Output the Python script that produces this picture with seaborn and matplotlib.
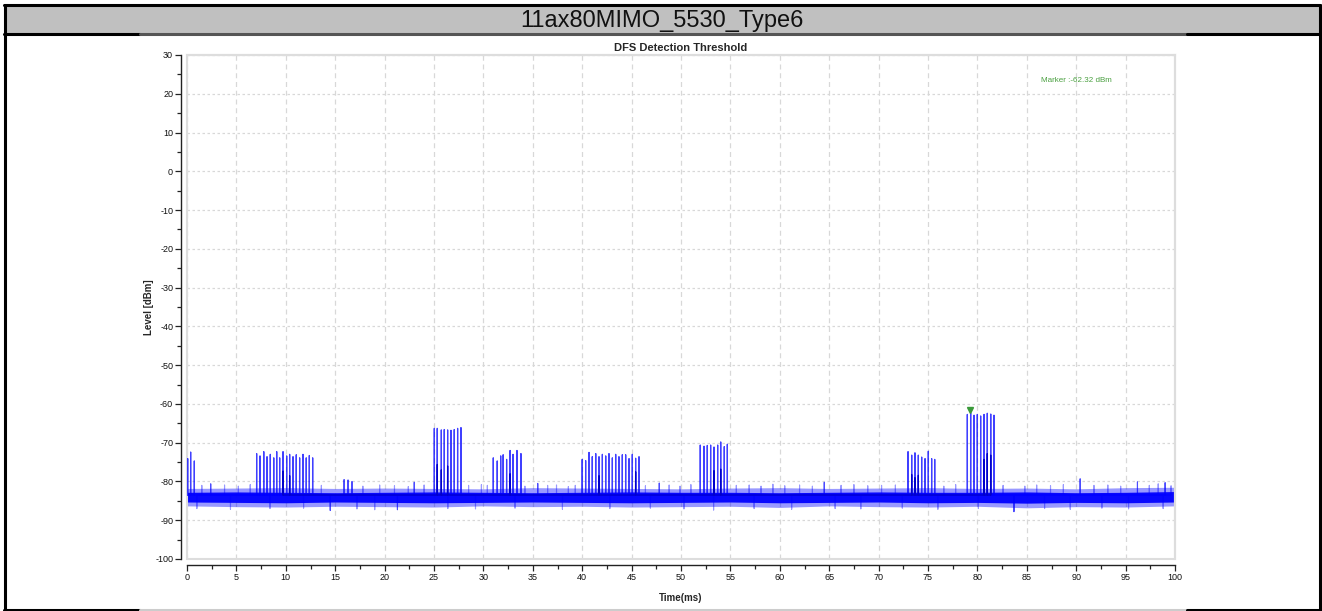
"""
plot.py - DFS detection threshold trace (11ax80MIMO_5530_Type6)
"""
import pandas as pd
import matplotlib.pyplot as plt
import seaborn as sns
from matplotlib.patches import Rectangle
from matplotlib.ticker import MultipleLocator

sns.set_theme(style="white")
plt.rcParams['font.family'] = ['Liberation Sans Narrow', 'Liberation Sans', 'DejaVu Sans']
plt.rcParams['axes.unicode_minus'] = False

HEADER = "11ax80MIMO_5530_Type6"
TITLE = "DFS Detection Threshold"
MARKER_T = 79.3
MARKER_LEVEL = -62.32

# noise floor envelope read every 5 ms (dBm)
noise_t = [0, 5, 10, 15, 20, 25, 30, 35, 40, 45, 50, 55, 60, 65, 70, 75, 80, 85, 90, 95, 100]
noise_hi = [-81.8, -81.7, -81.6, -81.8, -81.7, -81.8, -81.9, -81.6, -81.7, -81.8, -81.9,
            -81.7, -81.6, -81.8, -81.7, -81.6, -81.8, -81.7, -81.9, -81.6, -81.5]
noise_lo = [-86.3, -86.5, -86.6, -86.4, -86.5, -86.6, -86.3, -86.5, -86.4, -86.6, -86.5,
            -86.4, -86.7, -86.3, -86.5, -86.6, -86.4, -86.8, -86.5, -86.6, -86.3]
core_hi = [-82.8, -82.7, -82.8, -82.9, -82.8, -82.7, -82.8, -82.9, -82.8, -82.7, -82.8,
           -82.8, -82.9, -82.8, -82.7, -82.8, -82.8, -82.7, -82.9, -82.8, -82.6]
core_lo = [-85.3, -85.4, -85.5, -85.3, -85.4, -85.5, -85.4, -85.3, -85.4, -85.5, -85.4,
           -85.3, -85.5, -85.4, -85.3, -85.5, -85.4, -85.6, -85.4, -85.5, -85.3]

# isolated noise spikes, larger ones
spike_t = [2.4, 14.5, 15.9, 16.3, 16.7, 21.3, 23.0, 35.5, 47.8, 64.5, 83.7, 90.4, 96.2, 99.0]
spike_v = [-80.6, -87.5, -79.5, -79.6, -80.0, -87.3, -80.2, -80.5, -80.4, -80.2, -87.8, -79.3, -80.1, -80.3]

# fringe of the noise band (upward and downward excursions)
fringe_t = [1.5, 3.8, 5.2, 6.4, 13.6, 17.8, 19.5, 21.0, 22.4, 24.0, 28.5, 29.8, 30.4, 34.2,
            36.5, 37.4, 38.6, 39.3, 46.4, 48.8, 49.9, 51.0, 55.6, 56.9, 58.1, 59.3, 60.5, 62.0,
            63.3, 66.2, 67.5, 68.9, 70.3, 71.7, 76.6, 77.8, 82.6, 84.8, 86.0, 87.4, 88.7, 91.8,
            93.2, 94.5, 97.4, 98.3, 99.6,
            1.0, 4.4, 8.4, 11.8, 17.2, 19.0, 26.4, 29.2, 33.2, 38.0, 42.8, 46.9, 50.3, 53.3,
            57.4, 61.2, 65.6, 68.2, 72.4, 76.0, 80.1, 86.8, 89.4, 92.6, 95.3, 98.8]
fringe_v = [-81.0, -80.9, -81.2, -80.8, -81.0, -81.2, -80.9, -81.1, -81.3, -80.9, -81.0, -80.8,
            -81.0, -81.2, -81.0, -80.9, -81.3, -81.0, -81.1, -80.9, -81.2, -80.8, -81.0, -80.9,
            -81.2, -80.7, -81.1, -80.9, -81.2, -81.0, -80.8, -81.1, -81.0, -80.9, -81.2, -80.8,
            -81.0, -81.2, -80.9, -81.1, -80.8, -81.0, -80.9, -81.2, -81.0, -80.6, -81.1,
            -87.0, -87.2, -87.0, -86.9, -87.1, -87.3, -87.0, -87.1, -86.9, -87.2, -87.0, -86.9,
            -87.1, -87.4, -87.0, -87.2, -87.0, -87.1, -86.9, -87.2, -87.0, -87.0, -87.2, -86.9,
            -87.1, -87.0]

# radar pulses: time (ms) and peak level (dBm)
pulse_t = [0.07, 0.37, 0.74,
           7.05, 7.39, 7.77, 8.10, 8.43, 8.78, 9.08, 9.38, 9.72, 10.09, 10.39, 10.73, 11.06,
           11.40, 11.74, 12.07, 12.38, 12.72,
           25.03, 25.33, 25.74, 26.04, 26.38, 26.72, 27.05, 27.39, 27.73,
           31.00, 31.40, 31.75, 32.00, 32.35, 32.70, 33.00, 33.40, 33.80,
           40.00, 40.35, 40.69, 41.02, 41.37, 41.70, 42.04, 42.38, 42.71, 43.05, 43.39, 43.72,
           44.06, 44.40, 44.74, 45.07, 45.41, 45.75,
           51.95, 52.33, 52.66, 53.00, 53.34, 53.71, 54.02, 54.38, 54.69,
           72.98, 73.35, 73.68, 74.02, 74.36, 74.70, 75.03, 75.37, 75.68,
           78.98, 79.32, 79.66, 79.99, 80.33, 80.67, 81.00, 81.35, 81.68]
pulse_v = [-74.1, -72.4, -74.7,
           -72.8, -73.4, -72.3, -73.6, -73.0, -73.9, -72.3, -73.9, -72.3, -73.4, -73.0, -73.6, -73.1,
           -73.9, -73.0, -73.9, -73.3, -73.9,
           -66.3, -66.3, -66.7, -66.6, -66.7, -66.8, -66.6, -66.3, -66.1,
           -73.9, -74.7, -73.4, -73.1, -74.3, -72.0, -73.0, -72.0, -72.8,
           -74.3, -74.6, -72.5, -73.6, -72.8, -73.6, -73.0, -73.4, -72.8, -73.9, -73.0, -73.6,
           -73.1, -73.1, -74.1, -73.0, -74.0, -73.6,
           -70.6, -70.9, -70.7, -70.6, -71.1, -70.6, -69.8, -71.0, -70.4,
           -72.3, -73.2, -72.6, -73.2, -73.7, -74.1, -72.2, -74.1, -74.3,
           -62.7, -62.3, -62.9, -62.7, -63.1, -62.7, -62.4, -62.6, -62.9]

# weaker inner pulses of the second chain
inner_t = [9.72, 10.39, 25.33, 25.74, 26.38, 32.70, 41.70, 45.41, 53.34, 54.02,
           73.35, 73.68, 74.02, 80.67, 81.00, 81.35]
inner_v = [-77.3, -78.5, -75.6, -77.0, -76.0, -78.0, -78.5, -77.5, -77.2, -76.8,
           -78.2, -79.0, -78.4, -74.3, -72.8, -73.2]

FLOOR = -83.5


def spikes_frame(ts, vs):
    rows = []
    for t, v in zip(ts, vs):
        rows += [(t - 0.01, FLOOR), (t, v), (t + 0.01, FLOOR)]
    return pd.DataFrame(rows, columns=["t", "level"])


def fig_line(fig, xs, ys, color):
    W, H = 1322, 611
    fig.lines.append(plt.Line2D([x / W for x in xs], [1 - y / H for y in ys],
                                transform=fig.transFigure, color=color, lw=2.2))


def plot_dfs():
    fig = plt.figure(figsize=(13.22, 6.11), dpi=100)
    W, H = 1322, 611

    # header bar and outer table frame
    fig.patches.append(Rectangle((4 / W, 1 - 34 / H), 1316 / W, 29 / H, transform=fig.transFigure,
                                 facecolor="#c0c0c0", edgecolor="none"))
    fig_line(fig, [4, 1320], [5, 5], "black")
    fig_line(fig, [4, 140], [34, 34], "black")
    fig_line(fig, [140, 1187], [34, 34], "#555555")
    fig_line(fig, [1187, 1320], [34, 34], "black")
    fig_line(fig, [5, 5], [5, 610], "black")
    fig_line(fig, [1320, 1320], [5, 610], "black")
    fig_line(fig, [4, 140], [610, 610], "black")
    fig_line(fig, [140, 1187], [610, 610], "#cccccc")
    fig_line(fig, [1187, 1320], [610, 610], "black")
    fig.text(662 / W, 1 - 21 / H, HEADER, ha="center", va="center", fontsize=17,
             family=["Liberation Sans", "DejaVu Sans"], color="#111111")

    ax = fig.add_axes([187 / W, 1 - 559 / H, 988 / W, 504 / H])

    # noise floor
    ax.fill_between(noise_t, noise_lo, noise_hi, color="#0000ff", alpha=0.4, lw=0)
    ax.fill_between(noise_t, core_lo, core_hi, color="#0000ff", alpha=0.95, lw=0)
    sns.lineplot(data=spikes_frame(fringe_t, fringe_v), x="t", y="level", sort=False,
                 estimator=None, color="#0000ff", lw=0.8, alpha=0.4, ax=ax)
    sns.lineplot(data=spikes_frame(spike_t, spike_v), x="t", y="level", sort=False,
                 estimator=None, color="#0000ff", lw=0.8, alpha=0.7, ax=ax)

    # pulses
    sns.lineplot(data=spikes_frame(pulse_t, pulse_v), x="t", y="level", sort=False,
                 estimator=None, color="#0000ff", lw=0.9, alpha=0.75, ax=ax)
    sns.lineplot(data=spikes_frame(inner_t, inner_v), x="t", y="level", sort=False,
                 estimator=None, color="#0000cc", lw=0.9, ax=ax)

    # marker
    ax.plot([MARKER_T], [MARKER_LEVEL + 0.8], marker="v", color="#3a9a3a", ms=5, ls="none")
    ax.text(90.0, 23.3, f"Marker :{MARKER_LEVEL:.2f} dBm", color="#4aa040", fontsize=5.8,
            ha="center", va="center")

    ax.set_xlim(0, 100)
    ax.set_ylim(-100, 30)
    ax.xaxis.set_major_locator(MultipleLocator(5))
    ax.xaxis.set_minor_locator(MultipleLocator(2.5))
    ax.yaxis.set_major_locator(MultipleLocator(10))
    ax.yaxis.set_minor_locator(MultipleLocator(5))
    ax.grid(True, which="major", axis="x", color="#d8d8d8", ls=(0, (4, 3)), lw=0.9)
    ax.grid(True, which="major", axis="y", color="#d8d8d8", ls=(0, (2, 2)), lw=0.9)

    for side in ["top", "right"]:
        ax.spines[side].set_color("#dddddd")
        ax.spines[side].set_linewidth(1.5)
    for side in ["left", "bottom"]:
        ax.spines[side].set_position(("outward", 4))
        ax.spines[side].set_color("#222222")
        ax.spines[side].set_linewidth(1.0)
    ax.add_patch(Rectangle((0, 0), 1, 1, transform=ax.transAxes, fill=False,
                           edgecolor="#dddddd", lw=1.5, clip_on=False))
    ax.tick_params(which="both", direction="out", color="#222222", labelsize=6.5,
                   labelcolor="#111111", left=True, bottom=True, width=0.9)
    ax.tick_params(which="major", length=4, pad=2)
    ax.tick_params(which="minor", length=3)

    ax.set_title(TITLE, fontsize=8, fontweight="bold", pad=3)
    ax.set_xlabel("Time(ms)", fontsize=7, fontweight="bold", labelpad=8)
    ax.set_ylabel("Level [dBm]", fontsize=7, fontweight="bold")
    ax.yaxis.set_label_coords(-0.033, 0.5)

    plt.savefig("out.png", dpi=100)
    plt.close()


if __name__ == "__main__":
    plot_dfs()
